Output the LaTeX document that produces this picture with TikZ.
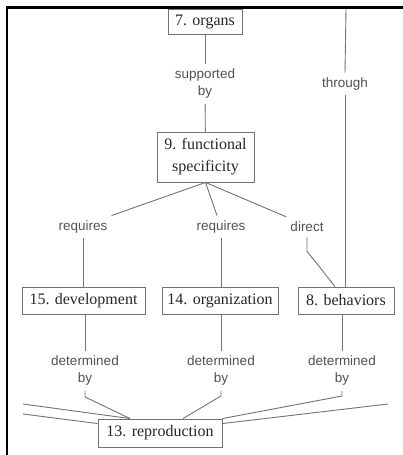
\documentclass[tikz,border=0pt]{standalone}
\usepackage{fontspec}
\setmainfont{Liberation Serif}
\newfontfamily\linkfont{Liberation Sans}
\usetikzlibrary{calc}
\begin{document}
\begin{tikzpicture}[x=1pt,y=-1pt,
  concept/.style={draw=black!55, line width=0.9pt, fill=white, inner sep=0pt,
    font=\fontsize{16}{22}\selectfont, text=black!85, align=center},
  linkword/.style={inner xsep=4pt, inner ysep=5pt,
    font=\linkfont\fontsize{13.5}{17}\selectfont, text=black!68, align=center},
  link/.style={draw=black!55, line width=0.9pt}]
\useasboundingbox (0,0) rectangle (403,455);
\fill[white] (0,0) rectangle (403,455);
% page frame
\draw[line width=2.6pt, line join=miter] (7,455) -- (7,7.7) -- (403,7.7);

% concepts
\node[concept, minimum width=74pt, minimum height=25pt] (organs) at (205,22) {7. organs};
\node[concept, minimum width=97pt, minimum height=50pt] (func) at (205.5,157) {9. functional\\specificity};
\node[concept, minimum width=123pt, minimum height=27pt] (dev) at (83.5,300.5) {15. development};
\node[concept, minimum width=116pt, minimum height=27pt] (org) at (220,300.5) {14. organization};
\node[concept, minimum width=96pt, minimum height=27pt] (beh) at (346,300.5) {8. behaviors};
\node[concept, minimum width=124pt, minimum height=28pt] (repro) at (160,433) {13. reproduction};

% linking words
\node[linkword] (supp) at (205,84) {supported\\by};
\node[linkword] (thr) at (345,84) {through};
\node[linkword] (req1) at (83,227) {requires};
\node[linkword] (req2) at (221,227) {requires};
\node[linkword] (dir) at (307,227) {direct};
\node[linkword] (det1) at (85,371) {determined\\by};
\node[linkword] (det2) at (221,371) {determined\\by};
\node[linkword] (det3) at (342,371) {determined\\by};

% loose ends of links running off the page
\coordinate (topC) at (205,9);
\coordinate (topR) at (346,9);
\coordinate (offL1) at (23,404);
\coordinate (offL2) at (23,414);
\coordinate (offR) at (388,404);

% links
\draw[link] (organs.north) -- (topC);
\draw[link] (organs) -- (supp);
\draw[link] (supp) -- (func);
\draw[link] (topR) -- (thr.north);
\draw[link] (thr.south) -- (thr.south |- beh.north);
\draw[link] (func.south) -- (req1.north east);
\draw[link] (func.south) -- ([xshift=-4pt]req2.north);
\draw[link] (func.south) -- (dir.north west);
\draw[link] (req1.south) -- (req1.south |- dev.north);
\draw[link] (req2.south) -- (req2.south |- org.north);
\draw[link] (dir.south) -- ++(0,14) -- ($(beh.north)+(-11,0)$);
\draw[link] (det1.north |- dev.south) -- (det1.north);
\draw[link] (det2.north |- org.south) -- (det2.north);
\draw[link] (det3.north |- beh.south) -- (det3.north);
\draw[link] (det1.south) -- ++(0,6) -- ($(repro.north)+(-30,0)$);
\draw[link] (det2.south) -- ++(0,5) -- ($(repro.north)+(23,0)$);
\draw[link] (det3.south) -- ++(0,5) -- (repro.north east);
\draw[link] (offL1) -- ($(repro.north)+(-30,0)$);
\draw[link] (offL2) -- ($(repro.north west)+(0,5)$);
\draw[link] (offR) -- ($(repro.north east)+(0,5)$);
\end{tikzpicture}
\end{document}
